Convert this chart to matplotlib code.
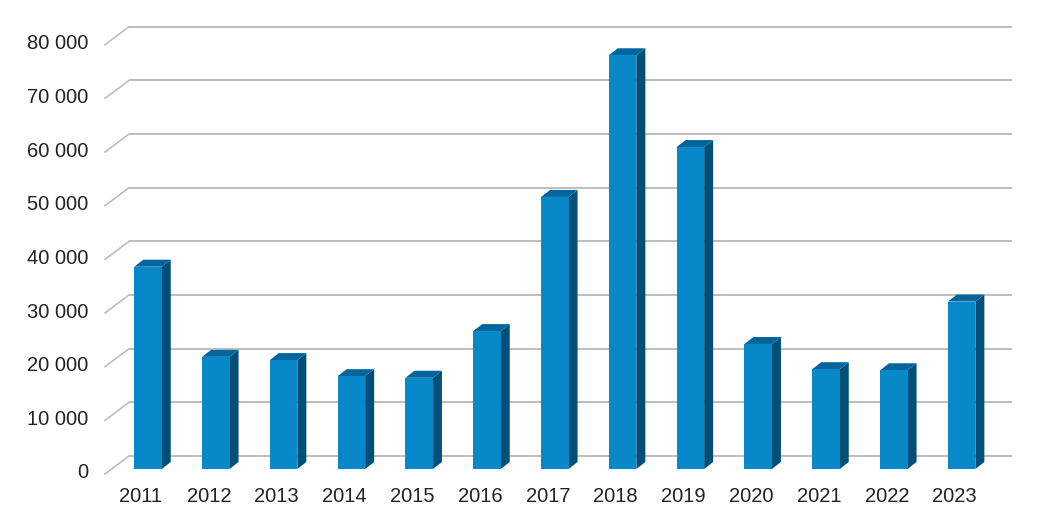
import matplotlib
matplotlib.use("Agg")
import matplotlib.pyplot as plt
from matplotlib.patches import Rectangle, Polygon

# ---- data ----
years = ["2011", "2012", "2013", "2014", "2015", "2016", "2017",
         "2018", "2019", "2020", "2021", "2022", "2023"]
values = [37700, 20900, 20300, 17300, 17000, 25700, 50700,
          77100, 60000, 23300, 18600, 18400, 31200]
ticks = [0, 10000, 20000, 30000, 40000, 50000, 60000, 70000, 80000]
tick_labels = ["0", "10 000", "20 000", "30 000", "40 000",
               "50 000", "60 000", "70 000", "80 000"]

# ---- layout (pixels) ----
W, H, DPI = 1047, 525, 100
x0_px, step_px = 148.0, 67.8          # front-face centre of first bar, spacing
zero_px_top, px_per_unit = 469.0, 53.66 / 10000.0
bar_w_px = 27.5
depth_dx, depth_dy = 9.0, 7.0          # bar depth offset
back_dx, back_dy = 17.0, 13.0          # back wall offset
front_dx, front_dy = -7.0, -5.0        # front floor edge offset

front_col = "#0788c8"
side_col = "#004f79"
top_col = "#00659d"
grid_col = "#bdbdbd"
text_col = "#222222"

fig = plt.figure(figsize=(W / DPI, H / DPI), dpi=DPI)
ax = fig.add_axes([0, 0, 1, 1])
ax.set_xlim(-x0_px / step_px, (W - x0_px) / step_px)
zb = H - zero_px_top
ax.set_ylim(-zb / px_per_unit, (H - zb) / px_per_unit)
ax.axis("off")

ux = 1.0 / step_px          # data units per pixel in x
uy = 1.0 / px_per_unit      # data units per pixel in y

left_edge = (112.0 - x0_px) / step_px
right_edge = (995.0 - x0_px) / step_px

for t, lab in zip(ticks, tick_labels):
    # back wall line
    ax.plot([left_edge + back_dx * ux, right_edge + back_dx * ux],
            [t + back_dy * uy, t + back_dy * uy],
            color=grid_col, lw=1.4, zorder=1, solid_capstyle="butt")
    # side wall diagonal
    ax.plot([left_edge + front_dx * ux, left_edge + back_dx * ux],
            [t + front_dy * uy, t + back_dy * uy],
            color=grid_col, lw=1.2, zorder=1)
    ax.text(left_edge + (88.0 - 112.0) * ux, t + (front_dy + 1) * uy, lab,
            ha="right", va="center", fontsize=14.5, color=text_col,
            family=["Liberation Sans", "DejaVu Sans"])

bw = bar_w_px * ux
ddx, ddy = depth_dx * ux, depth_dy * uy
for i, (yr, v) in enumerate(zip(years, values)):
    xl, xr = i - bw / 2, i + bw / 2
    ax.add_patch(Polygon([(xr, 0), (xr + ddx, ddy), (xr + ddx, v + ddy), (xr, v)],
                         closed=True, facecolor=side_col, edgecolor="none", zorder=3))
    ax.add_patch(Polygon([(xl, v), (xr, v), (xr + ddx, v + ddy), (xl + ddx, v + ddy)],
                         closed=True, facecolor=top_col, edgecolor="none", zorder=3))
    ax.add_patch(Rectangle((xl, 0), bw, v, facecolor=front_col,
                           edgecolor="none", zorder=4))
    ax.text(i - 7 * ux, -28 * uy, yr, ha="center", va="center",
            fontsize=14.5, color=text_col, family=["Liberation Sans", "DejaVu Sans"])

fig.savefig("out.png", dpi=DPI)
